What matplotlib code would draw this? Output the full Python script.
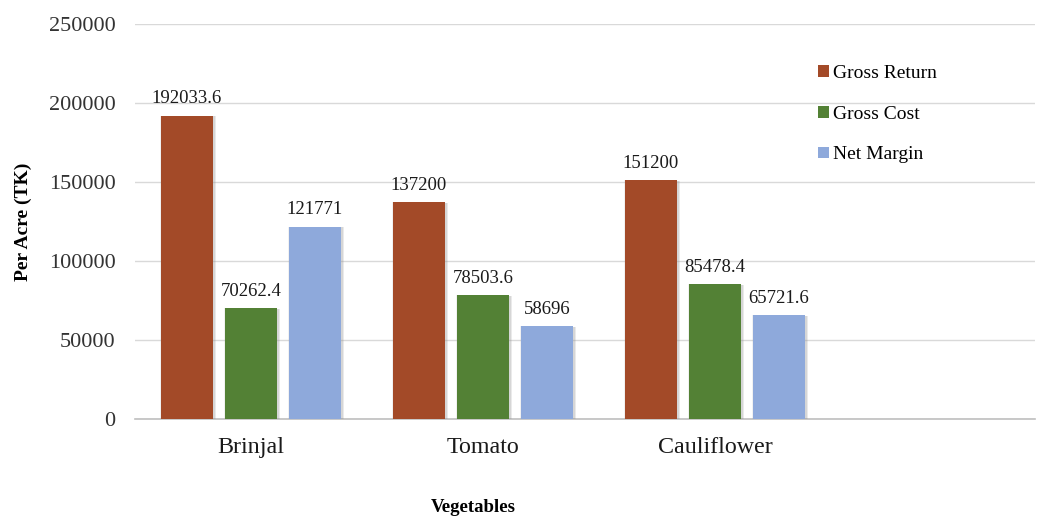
import matplotlib
matplotlib.use("Agg")
import matplotlib.pyplot as plt
import matplotlib.patheffects as pe
from matplotlib.patches import Patch
import numpy as np

# data
categories = ["Brinjal", "Tomato", "Cauliflower"]
series_names = ["Gross Return", "Gross Cost", "Net Margin"]
gross_return = [192033.6, 137200, 151200]
gross_cost = [70262.4, 78503.6, 85478.4]
net_margin = [121771, 58696, 65721.6]
value_labels = [
    ["192033.6", "137200", "151200"],
    ["70262.4", "78503.6", "85478.4"],
    ["121771", "58696", "65721.6"],
]
y_ticks = [0, 50000, 100000, 150000, 200000, 250000]

COLORS = ["#A34A28", "#538135", "#8EA9DB"]

plt.rcParams["font.family"] = ["Liberation Serif", "DejaVu Serif"]

fig = plt.figure(figsize=(10.49, 5.16), dpi=100)
ax = fig.add_axes([0.1287, 0.188, 0.858, 0.7655])

x = np.arange(len(categories))
width = 0.224
step = 0.276
# soft shadow, roughly like the office-style bar shadow
shadow = [
    pe.SimplePatchShadow(offset=(2.5, -0.5), shadow_rgbFace="#909090", alpha=0.18),
    pe.SimplePatchShadow(offset=(1.2, -0.5), shadow_rgbFace="#909090", alpha=0.22),
    pe.SimplePatchShadow(offset=(-1.0, 0), shadow_rgbFace="#909090", alpha=0.12),
    pe.Normal(),
]

for i, (name, vals) in enumerate(zip(series_names, [gross_return, gross_cost, net_margin])):
    pos = x + (i - 1) * step
    bars = ax.bar(pos, vals, width, color=COLORS[i], zorder=3)
    for b in bars:
        b.set_path_effects(shadow)
    for p, v, lab in zip(pos, vals, value_labels[i]):
        ax.annotate(lab, (p, v), xytext=(0, 6), textcoords="offset points",
                    ha="center", va="bottom", fontsize=13.5, color="#1a1a1a")

ax.set_xlim(-0.5, 3.38)
ax.set_ylim(0, 250000)
ax.set_yticks(y_ticks)
ax.set_yticklabels([str(t) for t in y_ticks])
ax.set_xticks(x)
ax.set_xticklabels(categories, fontsize=17.3)
ax.tick_params(axis="y", length=0, pad=14, labelsize=16, labelcolor="#333333")
ax.tick_params(axis="x", length=0, pad=13, labelcolor="#1a1a1a")

ax.grid(axis="y", color="#D9D9D9", linewidth=1.0, zorder=0)
for s in ["top", "right", "left"]:
    ax.spines[s].set_visible(False)
ax.spines["bottom"].set_color("#BFBFBF")
ax.spines["bottom"].set_linewidth(1.2)

ax.set_ylabel("Per Acre (TK)", fontsize=14, fontweight="bold", labelpad=12)
fig.text(473 / 1049, 1 - 507 / 516, "Vegetables", fontsize=13.5, fontweight="bold",
         ha="center", va="center")

handles = [Patch(facecolor=c, edgecolor="none") for c in COLORS]
ax.legend(handles, series_names, loc="upper left",
          bbox_to_anchor=(818 / 1049, 1 - 65 / 516),
          bbox_transform=fig.transFigure, frameon=False, fontsize=14,
          handlelength=0.55, handleheight=0.55, handletextpad=0.2,
          labelspacing=1.22, borderaxespad=0, borderpad=0)

fig.savefig("out.png", dpi=100)
